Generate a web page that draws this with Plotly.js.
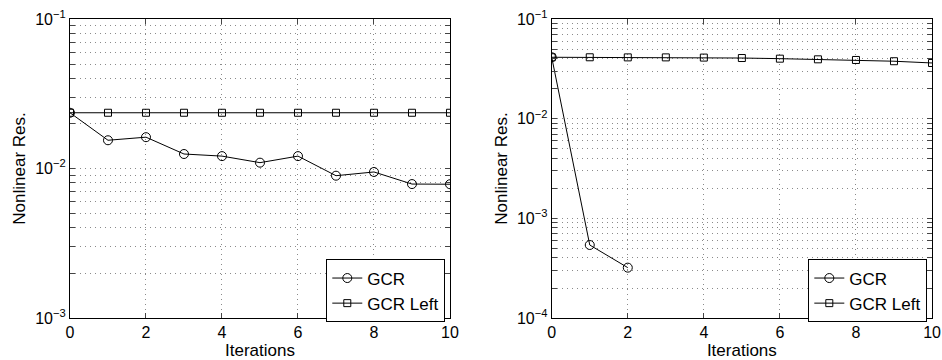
<!DOCTYPE html>
<html><head><meta charset="utf-8">
<script src="https://cdn.plot.ly/plotly-3.0.1.min.js"></script>
<style>html,body{margin:0;padding:0;background:#fff}#c{width:942px;height:360px}</style>
</head><body><div id="c"></div>
<script>
const iterations = [0,1,2,3,4,5,6,7,8,9,10];
const leftGCR = [0.0236,0.01545,0.0162,0.0125,0.0121,0.01094,0.0121,0.00895,0.00948,0.00787,0.00785];
const leftGCRLeft = [0.0236,0.0236,0.0236,0.0236,0.0236,0.0236,0.0236,0.0236,0.0236,0.0236,0.0236];
const rightIter = [0,1,2];
const rightGCR = [0.0413,0.00054,0.00032];
const rightGCRLeft = [0.0413,0.0413,0.0412,0.0412,0.0410,0.0406,0.0400,0.0394,0.0388,0.0377,0.0362];
const xTicks = [0,2,4,6,8,10];

function logTicks(lo, hi){
  const vals=[], txt=[];
  for(let e=lo;e<=hi;e++){
    for(let m=1;m<=9;m++){
      if(e===hi && m>1) break;
      vals.push(m*Math.pow(10,e));
      txt.push(m===1 ? '10<sup>\u2212'+(-e)+'</sup>' : '');
    }
  }
  return {vals, txt};
}
const lt = logTicks(-3,-1), rt = logTicks(-4,-1);
const fam = '"Liberation Sans", Arial, sans-serif';
const tickFont = {family:fam, size:16, color:'#000'};
const titleFont = {family:fam, size:17, color:'#000'};
const gridDash = '1px,4px';
const gridColor = '#8a8a8a';
function xa(domain, anchor){
  return {domain, anchor, range:[0,10], tickvals:xTicks, ticks:'inside', ticklen:5, mirror:'ticks',
    showline:true, linecolor:'#000', linewidth:1, showgrid:true, gridcolor:gridColor, griddash:gridDash, gridwidth:1,
    zeroline:false, title:{text:'Iterations', font:titleFont, standoff:0}, tickfont:tickFont};
}
function ya(t, lo, anchor){
  return {type:'log', anchor, range:[lo,-1], tickvals:t.vals, ticktext:t.txt, ticks:'inside', ticklen:5, mirror:'ticks',
    showline:true, linecolor:'#000', linewidth:1, showgrid:true, gridcolor:gridColor, griddash:gridDash, gridwidth:1,
    zeroline:false, title:{text:'Nonlinear Res.', font:titleFont, standoff:5}, tickfont:tickFont};
}
const circ = {symbol:'circle-open', size:9, color:'#000', line:{width:1,color:'#000'}};
const sq = {symbol:'square-open', size:7, color:'#000', line:{width:1,color:'#000'}};
const line = {color:'#000', width:1};
const traces = [
  {x:iterations, y:leftGCR, mode:'lines+markers', name:'GCR', marker:circ, line, xaxis:'x', yaxis:'y', legend:'legend'},
  {x:iterations, y:leftGCRLeft, mode:'lines+markers', name:'GCR Left', marker:sq, line, xaxis:'x', yaxis:'y', legend:'legend'},
  {x:rightIter, y:rightGCR, mode:'lines+markers', name:'GCR', marker:circ, line, xaxis:'x2', yaxis:'y2', legend:'legend2'},
  {x:iterations, y:rightGCRLeft, mode:'lines+markers', name:'GCR Left', marker:sq, line, xaxis:'x2', yaxis:'y2', legend:'legend2'}
];
const leg = (x)=>({x, y:-0.015, xanchor:'right', yanchor:'bottom', bgcolor:'#fff', bordercolor:'#000', borderwidth:1,
  font:{family:fam, size:17, color:'#000'}, tracegroupgap:0, itemwidth:30});
const layout = {
  width:942, height:360, margin:{l:0,r:0,t:19,b:42}, paper_bgcolor:'#fff', plot_bgcolor:'#fff',
  font:tickFont, showlegend:true,
  xaxis: xa([0.0743,0.4777],'y'), yaxis: ya(lt,-3,'x'),
  xaxis2: xa([0.5857,0.9894],'y2'), yaxis2: ya(rt,-4,'x2'),
  legend: leg(0.4777-0.005), legend2: leg(0.9894-0.005)
};
Plotly.newPlot('c', traces, layout, {staticPlot:true});
</script></body></html>
